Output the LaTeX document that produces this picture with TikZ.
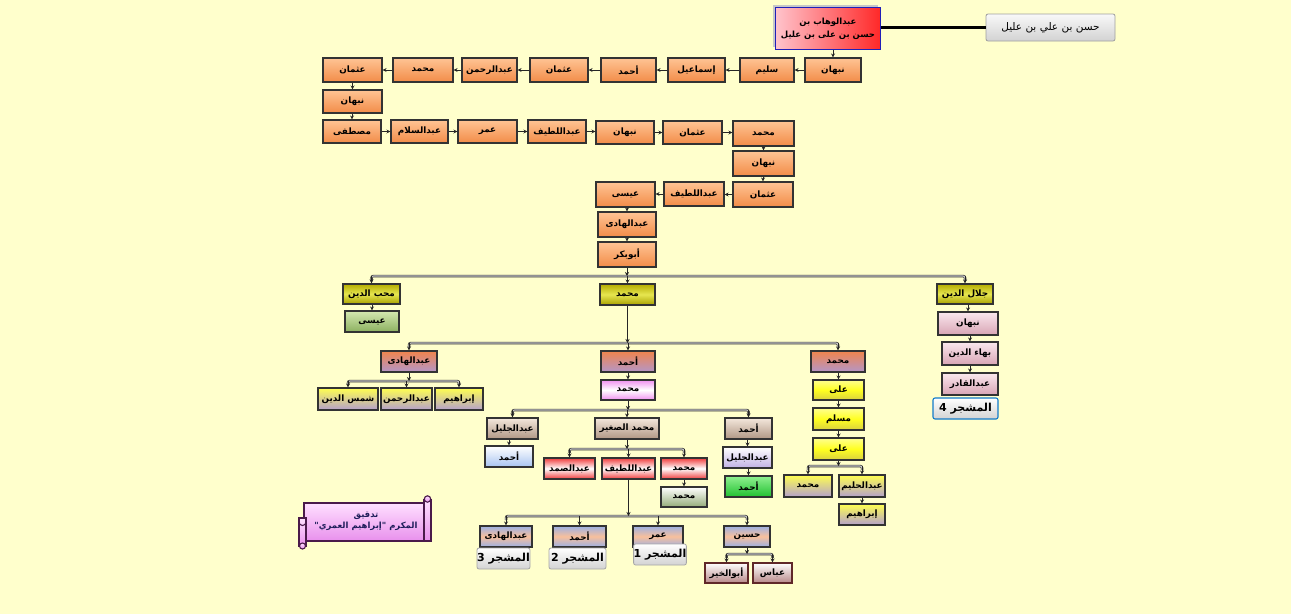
\documentclass[tikz,border=0pt]{standalone}
\usepackage{fontspec}
\usetikzlibrary{shadows,arrows.meta,calc}
\TeXXeTstate=1
\newfontfamily\arfont[Script=Arabic]{DejaVu Sans}
\definecolor{bg}{HTML}{FFFFCC}
\definecolor{orT}{HTML}{FFC494}
\definecolor{orB}{HTML}{F28C48}
\definecolor{olT}{HTML}{B4AC00}
\definecolor{olM}{HTML}{E6E650}
\definecolor{olB}{HTML}{A8A000}
\definecolor{gnT}{HTML}{D4E8B0}
\definecolor{gnB}{HTML}{8CB060}
\definecolor{opT}{HTML}{F0844C}
\definecolor{opB}{HTML}{B496C8}
\definecolor{ypT}{HTML}{FFFF50}
\definecolor{ypB}{HTML}{B4A0CC}
\definecolor{mgE}{HTML}{F090F0}
\definecolor{brT}{HTML}{F4E8DC}
\definecolor{brB}{HTML}{B09684}
\definecolor{lbB}{HTML}{A8C4F0}
\definecolor{rdE}{HTML}{F03C3C}
\definecolor{ggB}{HTML}{94AC78}
\definecolor{lvB}{HTML}{C0B0E4}
\definecolor{bgT}{HTML}{90F090}
\definecolor{bgB}{HTML}{20C030}
\definecolor{yeT}{HTML}{FFFF90}
\definecolor{yeM}{HTML}{FFFF20}
\definecolor{yeB}{HTML}{D8D040}
\definecolor{pkT}{HTML}{FAE8EE}
\definecolor{pkB}{HTML}{D8A4B4}
\definecolor{blE}{HTML}{9CB0E4}
\definecolor{peM}{HTML}{F8C09C}
\definecolor{drB}{HTML}{B88888}
\definecolor{drD}{HTML}{602828}
\definecolor{hdrL}{HTML}{FFC4CC}
\definecolor{hdrR}{HTML}{FF2828}
\definecolor{hdrD}{HTML}{2020B8}
\definecolor{scT}{HTML}{FFE0FF}
\definecolor{scB}{HTML}{E890EC}
\definecolor{scD}{HTML}{4A1A4A}
\definecolor{scTx}{HTML}{1E1E5A}
\tikzset{
  box/.style={draw=black!80, line width=1.1pt, inner sep=0pt,
    font=\arfont\bfseries\fontsize{8.8}{10}\selectfont,
    general shadow={fill=black!25, shadow xshift=-1.5pt, shadow yshift=1.5pt}},
  orbox/.style={box, top color=orT, bottom color=orB},
  olbox/.style={box, top color=olT, bottom color=olB, middle color=olM},
  gnbox/.style={box, top color=gnT, bottom color=gnB},
  opbox/.style={box, top color=opT, bottom color=opB},
  ypbox/.style={box, top color=ypT, bottom color=ypB},
  mgbox/.style={box, top color=mgE, bottom color=mgE, middle color=white},
  brbox/.style={box, top color=brT, bottom color=brB},
  lbbox/.style={box, top color=white, bottom color=lbB},
  rdbox/.style={box, top color=rdE, bottom color=rdE, middle color=white},
  ggbox/.style={box, top color=white, bottom color=ggB},
  lvbox/.style={box, top color=white, bottom color=lvB},
  bgbox/.style={box, top color=bgT, bottom color=bgB},
  yebox/.style={box, top color=yeT, bottom color=yeB, middle color=yeM},
  pkbox/.style={box, top color=pkT, bottom color=pkB},
  bpbox/.style={box, top color=blE, bottom color=blE, middle color=peM},
  dkbox/.style={box, draw=drD, top color=white, bottom color=drB},
  lblbox/.style={draw=gray!70, line width=0.8pt, rounded corners=2pt, inner sep=0pt,
    top color=white, bottom color=gray!35,
    font=\arfont\bfseries\fontsize{11}{12}\selectfont},
  lblblue/.style={lblbox, draw=cyan!60!blue, line width=1.1pt},
  hdrbox/.style={draw=hdrD, line width=1.7pt, inner sep=0pt, left color=hdrL, right color=hdrR,
    align=center, font=\arfont\bfseries\fontsize{8.5}{13}\selectfont,
    general shadow={fill=black!22, shadow xshift=-3pt, shadow yshift=3pt}},
  grbox/.style={draw=gray!75, line width=0.8pt, rounded corners=2pt, inner sep=0pt,
    top color=gray!5, bottom color=gray!35, font=\arfont\fontsize{10.5}{12}\selectfont},
  arr/.style={draw=black!85, line width=0.8pt, -{Stealth[length=4pt,width=4pt]}},
  bar/.style={draw=black!80, line width=0.7pt, double=gray!45, double distance=1.1pt, rounded corners=2pt},
  thickline/.style={draw=black, line width=2.4pt},
  scrollbody/.style={draw=scD, line width=1.1pt, top color=scT, bottom color=scB},
  scrolltxt/.style={align=center, text=scTx, font=\arfont\bfseries\fontsize{8.5}{11}\selectfont}
}
\newcommand\Bx[7]{\node[#1, minimum width={#5-#3}, minimum height={#6-#4}] (#2) at ({(#3+#5)/2},{(#4+#6)/2}) {#7};}
\newcommand\Fam[4]{%
  \draw[bar] ($(#3.north |- 0,#2)+(0,4)$) -- (#3.north |- 0,#2) -- (#4.north |- 0,#2) -- ($(#4.north |- 0,#2)+(0,4)$);
  \draw[arr] (#1.south) -- (#1.south |- 0,#2);}
\newcommand\Kid[2]{\draw[arr] (#1.north |- 0,#2) -- (#1.north);}
\newcommand\Dn[2]{\draw[arr] (#2.north |- #1.south) -- (#2.north);}
\begin{document}
\begin{tikzpicture}[x=1pt,y=-1pt]
\useasboundingbox (0,0) rectangle (1291,614);
\fill[bg] (0,0) rectangle (1291,614);

% header
\node[hdrbox, minimum width=105, minimum height=42] (hdr) at (828,28.5)
  {\beginR عبدالوهاب بن\endR\\\beginR حسن بن على بن عليل\endR};
\Bx{grbox}{hasan}{986}{14}{1115}{41}{\beginR حسن بن علي بن عليل\endR}
\draw[thickline] (hdr.east |- hasan.west) -- (hasan.west);

% row 1
\Bx{orbox}{ra}{805}{58}{861}{82}{\beginR نبهان\endR}
\Bx{orbox}{rb}{740}{58}{794}{82}{\beginR سليم\endR}
\Bx{orbox}{rc}{668}{58}{725}{82}{\beginR إسماعيل\endR}
\Bx{orbox}{rd}{601}{58}{656}{82}{\beginR أحمد\endR}
\Bx{orbox}{re}{530}{58}{588}{82}{\beginR عثمان\endR}
\Bx{orbox}{rf}{462}{58}{517}{82}{\beginR عبدالرحمن\endR}
\Bx{orbox}{rg}{393}{58}{453}{82}{\beginR محمد\endR}
\Bx{orbox}{rh}{323}{58}{382}{82}{\beginR عثمان\endR}
\Bx{orbox}{sa}{323}{90}{382}{113}{\beginR نبهان\endR}
% row 3
\Bx{orbox}{ta}{323}{120}{381}{143}{\beginR مصطفى\endR}
\Bx{orbox}{tb}{391}{120}{448}{143}{\beginR عبدالسلام\endR}
\Bx{orbox}{tc}{458}{120}{517}{143}{\beginR عمر\endR}
\Bx{orbox}{td}{528}{120}{586}{143}{\beginR عبداللطيف\endR}
\Bx{orbox}{te}{596}{121}{654}{144}{\beginR نبهان\endR}
\Bx{orbox}{tf}{663}{121}{722}{144}{\beginR عثمان\endR}
\Bx{orbox}{tg}{733}{121}{794}{146}{\beginR محمد\endR}
\Bx{orbox}{ua}{733}{151}{794}{176}{\beginR نبهان\endR}
\Bx{orbox}{va}{733}{182}{793}{207}{\beginR عثمان\endR}
\Bx{orbox}{vb}{664}{182}{724}{206}{\beginR عبداللطيف\endR}
\Bx{orbox}{vc}{596}{182}{655}{207}{\beginR عيسى\endR}
\Bx{orbox}{wa}{598}{212}{656}{237}{\beginR عبدالهادى\endR}
\Bx{orbox}{wb}{598}{242}{656}{267}{\beginR أبوبكر\endR}

% sons of Abubakr
\Bx{olbox}{mohib}{343}{284}{400}{304}{\beginR محب الدين\endR}
\Bx{olbox}{mA}{600}{284}{655}{305}{\beginR محمد\endR}
\Bx{olbox}{jalal}{937}{284}{993}{304}{\beginR جلال الدين\endR}
\Bx{gnbox}{issa}{345}{311}{399}{332}{\beginR عيسى\endR}
\Bx{pkbox}{nab}{938}{312}{998}{335}{\beginR نبهان\endR}
\Bx{pkbox}{bahaa}{942}{342}{998}{365}{\beginR بهاء الدين\endR}
\Bx{pkbox}{qadir}{942}{373}{998}{395}{\beginR عبدالقادر\endR}
\Bx{lblblue}{lbl4}{933}{398}{998}{419}{\beginR المشجر 4\endR}

% sons of Mohammad
\Bx{opbox}{hadi}{381}{351}{437}{372}{\beginR عبدالهادى\endR}
\Bx{opbox}{ahA}{601}{351}{655}{372}{\beginR أحمد\endR}
\Bx{opbox}{mB}{811}{351}{865}{372}{\beginR محمد\endR}
\Bx{ypbox}{shams}{318}{388}{378}{410}{\beginR شمس الدين\endR}
\Bx{ypbox}{rahman}{381}{388}{432}{410}{\beginR عبدالرحمن\endR}
\Bx{ypbox}{ibrA}{435}{388}{483}{410}{\beginR إبراهيم\endR}
\Bx{mgbox}{mC}{601}{380}{655}{400}{\beginR محمد\endR}
\Bx{brbox}{jalil}{487}{418}{538}{439}{\beginR عبدالجليل\endR}
\Bx{brbox}{saghir}{595}{418}{659}{439}{\beginR محمد الصغير\endR}
\Bx{brbox}{ahB}{725}{418}{772}{439}{\beginR أحمد\endR}
\Bx{lbbox}{ahC}{485}{446}{533}{467}{\beginR أحمد\endR}
\Bx{rdbox}{samad}{544}{458}{595}{479}{\beginR عبدالصمد\endR}
\Bx{rdbox}{latif}{602}{458}{655}{479}{\beginR عبداللطيف\endR}
\Bx{rdbox}{mD}{661}{458}{707}{479}{\beginR محمد\endR}
\Bx{ggbox}{mE}{661}{487}{707}{507}{\beginR محمد\endR}
\Bx{lvbox}{jalilB}{723}{447}{772}{468}{\beginR عبدالجليل\endR}
\Bx{bgbox}{ahD}{725}{476}{772}{497}{\beginR أحمد\endR}
% right branch
\Bx{yebox}{aliA}{813}{380}{864}{400}{\beginR على\endR}
\Bx{yebox}{muslim}{813}{408}{864}{430}{\beginR مسلم\endR}
\Bx{yebox}{aliB}{813}{438}{864}{460}{\beginR على\endR}
\Bx{ypbox}{mF}{784}{475}{832}{497}{\beginR محمد\endR}
\Bx{ypbox}{halim}{839}{475}{885}{497}{\beginR عبدالحليم\endR}
\Bx{ypbox}{ibrB}{839}{504}{885}{525}{\beginR إبراهيم\endR}
% bottom
\Bx{bpbox}{hadiB}{480}{526}{532}{547}{\beginR عبدالهادى\endR}
\Bx{bpbox}{ahE}{553}{526}{606}{547}{\beginR أحمد\endR}
\Bx{bpbox}{umar}{633}{526}{683}{547}{\beginR عمر\endR}
\Bx{bpbox}{husain}{724}{526}{770}{547}{\beginR حسين\endR}
\Bx{lblbox}{lbl3}{477}{548}{530}{569}{\beginR المشجر 3\endR}
\Bx{lblbox}{lbl2}{549}{548}{606}{569}{\beginR المشجر 2\endR}
\Bx{lblbox}{lbl1}{634}{544}{686}{565}{\beginR المشجر 1\endR}
\Bx{dkbox}{khair}{705}{563}{748}{583}{\beginR أبوالخير\endR}
\Bx{dkbox}{abbas}{753}{563}{792}{583}{\beginR عباس\endR}

% scroll
\draw[scrollbody] (304,503) -- (428,503) -- (428,541) -- (304,541) -- cycle;
\draw[scrollbody] (424,500) rectangle (431,541);
\draw[scrollbody] (427.5,499) circle (3.2);
\draw[scrollbody] (299,518) rectangle (306,546);
\draw[scrollbody] (302.5,546) circle (3);
\draw[draw=scD, line width=1.1pt] (299,522) arc (180:0:3.5);
\node[scrolltxt] (scr) at (366,521) {\beginR تدقيق\endR\\\beginR المكرم "إبراهيم العمري"\endR};

% connectors: top chain
\Dn{hdr}{ra}
\draw[arr] (ra.west) -- (rb.east);
\draw[arr] (rb.west) -- (rc.east);
\draw[arr] (rc.west) -- (rd.east);
\draw[arr] (rd.west) -- (re.east);
\draw[arr] (re.west) -- (rf.east);
\draw[arr] (rf.west) -- (rg.east);
\draw[arr] (rg.west) -- (rh.east);
\Dn{rh}{sa}
\Dn{sa}{ta}
\draw[arr] (ta.east) -- (ta.east -| tb.west);
\draw[arr] (tb.east) -- (tb.east -| tc.west);
\draw[arr] (tc.east) -- (tc.east -| td.west);
\draw[arr] (td.east) -- (td.east -| te.west);
\draw[arr] (te.east) -- (te.east -| tf.west);
\draw[arr] (tf.east) -- (tf.east -| tg.west);
\Dn{tg}{ua}
\Dn{ua}{va}
\draw[arr] (va.west) -- (va.west -| vb.east);
\draw[arr] (vb.west) -- (vb.west -| vc.east);
\Dn{vc}{wa}
\Dn{wa}{wb}

% families
\Fam{wb}{276}{mohib}{jalal}
\Kid{mohib}{276}\Kid{mA}{276}\Kid{jalal}{276}
\Dn{mohib}{issa}
\Dn{jalal}{nab}\Dn{nab}{bahaa}\Dn{bahaa}{qadir}

\Fam{mA}{343}{hadi}{mB}
\Kid{hadi}{343}\Kid{ahA}{343}\Kid{mB}{343}

\Fam{hadi}{381}{shams}{ibrA}
\Kid{shams}{381}\Kid{rahman}{381}\Kid{ibrA}{381}

\Dn{ahA}{mC}
\Fam{mC}{410}{jalil}{ahB}
\Kid{jalil}{410}\Kid{saghir}{410}\Kid{ahB}{410}
\Dn{jalil}{ahC}
\Fam{saghir}{449}{samad}{mD}
\Kid{samad}{449}\Kid{latif}{449}\Kid{mD}{449}
\Dn{mD}{mE}
\Dn{ahB}{jalilB}\Dn{jalilB}{ahD}

\Fam{latif}{516}{hadiB}{husain}
\Kid{hadiB}{516}\Kid{ahE}{516}\Kid{umar}{516}\Kid{husain}{516}
\Fam{husain}{554}{khair}{abbas}
\Kid{khair}{554}\Kid{abbas}{554}

\Dn{mB}{aliA}\Dn{aliA}{muslim}\Dn{muslim}{aliB}
\Fam{aliB}{466}{mF}{halim}
\Kid{mF}{466}\Kid{halim}{466}
\Dn{halim}{ibrB}
\end{tikzpicture}
\end{document}
